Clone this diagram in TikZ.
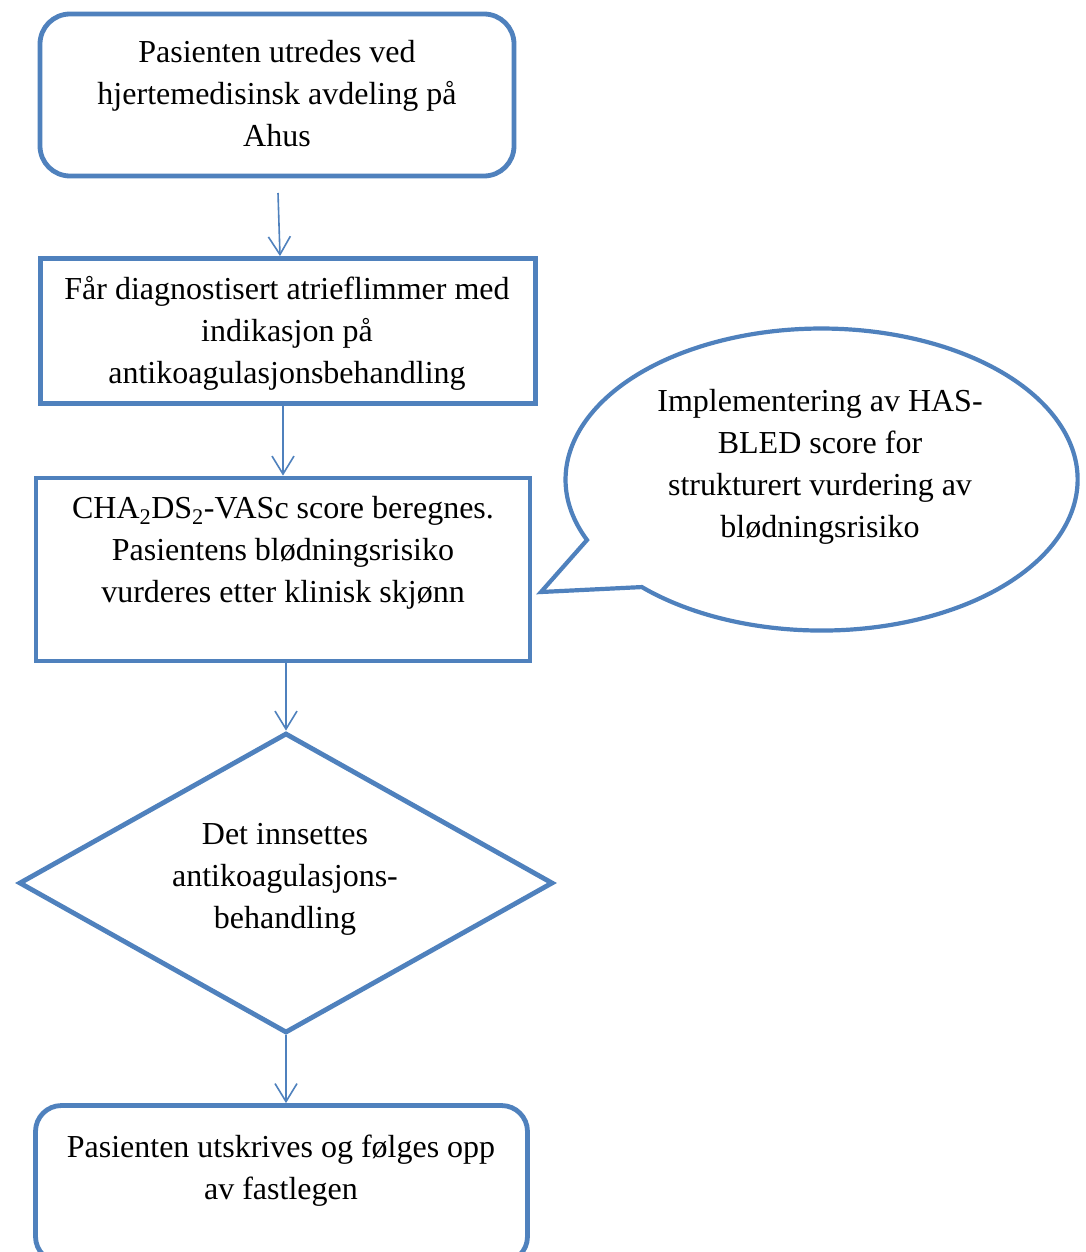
\documentclass[tikz,border=0pt]{standalone}
\usepackage{fontspec}
\setmainfont{Liberation Serif}
\usetikzlibrary{arrows.meta,shapes.geometric}
\definecolor{wblue}{RGB}{79,129,189}
\begin{document}
\begin{tikzpicture}[x=1pt,y=-1pt,
  box/.style={draw=wblue,line width=4.8pt,inner sep=0pt},
  txt/.style={align=center,font=\fontsize{32}{42}\selectfont,inner sep=0pt},
  arr/.style={draw=wblue,line width=1.6pt,-{Straight Barb[length=18pt,width=22pt,line width=1.6pt]}}]
\useasboundingbox (0,0) rectangle (1085,1252);
\clip (0,0) rectangle (1085,1252);
\fill[white] (0,0) rectangle (1085,1252);
% boxes
\node[box,rounded corners=30pt,minimum width=474pt,minimum height=162pt] (b1) at (277,95) {};
\node[box,minimum width=495pt,minimum height=145pt] (b2) at (288,331) {};
\node[box,minimum width=494pt,minimum height=183pt] (b3) at (283,569.5) {};
\node[box,diamond,minimum width=534pt,minimum height=300pt] (d) at (286,883) {};
\node[box,rounded corners=26pt,minimum width=492pt,minimum height=157pt] (b5) at (281.5,1184) {};
% speech bubble
\draw[draw=wblue,line width=4.2pt,fill=white,line join=miter]
  (587,540) arc[start angle=203.6,end angle=-134.6,x radius=256pt,y radius=151pt]
  -- (541,592) -- cycle;
% texts
\node[txt] (t1) at (277,94) {Pasienten utredes ved\\hjertemedisinsk avdeling på\\Ahus};
\node[txt] (t2) at (287,333) {Får diagnostisert atrieflimmer med\\indikasjon på\\antikoagulasjonsbehandling};
\node[txt] (t3) at (283,553) {CHA\textsubscript{2}DS\textsubscript{2}-VASc score beregnes.\\Pasientens blødningsrisiko\\vurderes etter klinisk skjønn};
\node[txt] (t4) at (820,467) {Implementering av HAS-\\BLED score for\\strukturert vurdering av\\blødningsrisiko};
\node[txt] (t5) at (285,879) {Det innsettes\\antikoagulasjons-\\behandling};
\node[txt] (t6) at (281,1171) {Pasienten utskrives og følges opp\\av fastlegen};
% arrows
\coordinate (c1) at (278,193);
\draw[arr] (c1) -- ([xshift=-8pt]b2.north);
\draw[arr] (b2.south -| b3.north) -- (b3.north);
\draw[arr] (b3.south -| d.north) -- (d.north);
\draw[arr] (d.south) -- (b5.north -| d.south);
\end{tikzpicture}
\end{document}
